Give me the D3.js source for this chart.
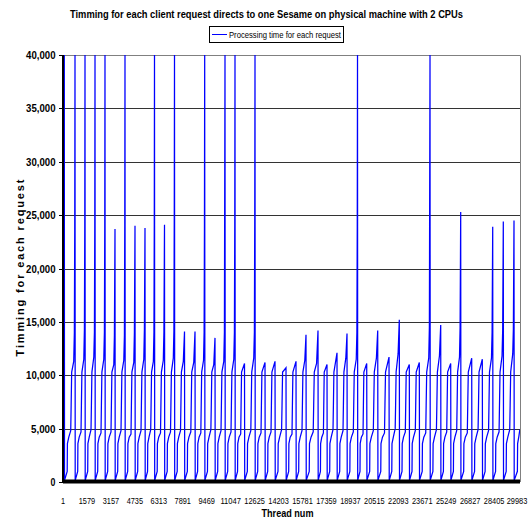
<!DOCTYPE html>
<html>
<head>
<meta charset="utf-8">
<script src="https://cdn.jsdelivr.net/npm/d3@7"></script>
<style>
  body { margin: 0; background: #fff; }
  text { font-family: 'Liberation Sans', Arial, sans-serif; fill: #000; }
</style>
</head>
<body>
<div id="chart"></div>
<script>
// ---- data ----
// thread number where each request cycle ends (the reset back to ~0)
var cycleEnd = [87, 792, 1451, 2110, 2768, 3427, 4086, 4745, 5404, 6030,
                6689, 7348, 8007, 8699, 9337, 10016, 10675, 11334, 11960, 12652,
                13311, 13970, 14694, 15353, 16012, 16803, 17396, 18055, 18714, 19406,
                20012, 20737, 21482, 22160, 22819, 23478, 24183, 24888, 25546, 26205,
                26930, 27629, 28314, 29012, 29717];
// top of the first band (~4-5 s) in each cycle
var band1Top = [4800, 4800, 4700, 4900, 4600, 4700, 4800, 4500, 4800, 4900,
                4600, 4700, 4800, 4700, 4600, 4900, 4800, 4700, 4500, 4800,
                4600, 4700, 4900, 4500, 4800, 4700, 4600, 4900, 4800, 4700,
                4500, 4800, 4600, 5000, 4700, 4800, 4600, 4900, 4700, 4800,
                4600, 4900, 4800, 4700, 4900];
// top of the second band (~11 s)
var band2Top = [11400, 11300, 11500, 11700, 11500, 11000, 11400, 11200, 11500, 11300,
                11400, 11600, 11300, 11200, 11400, 11000, 11300, 11500, 11100, 11600,
                11200, 11300, 10700, 11300, 11400, 11100, 11000, 12100, 11600, 11500,
                11100, 11600, 11700, 12000, 11000, 11200, 11600, 11800, 11100, 11700,
                11600, 11500, 11600, 11800, 12000];
// third level (~14 s), null when the cycle stops at band 2
var highTop = [14200, 14000, 14300, 14000, 14000, 13700, 13700, 14000, 14300, 14000,
               14000, 14200, 14100, 14100, 14000, 13500, 14000, 14000, null, 14000,
               null, null, null, null, 13800, 14200, null, null, 13900, 14000,
               null, 14200, null, 15200, null, null, 14500, 14700, null, 14500,
               null, null, 14000, 14200, 14300];
// ~24 s level
var peak24 = [23700, 23700, 23700, 23700, 23700, 23700, 23800, 24000, 23800, 23800,
              24100, 24700, null, null, 23800, null, null, 23900, null, 24800,
              null, null, null, null, null, null, null, null, null, 23900,
              null, null, null, null, null, null, null, null, null, 25300,
              null, null, 23900, 24400, 24500];
// spikes that run off the top of the axis
var spikeTop = [40000, 40000, 40000, 40000, 40000, null, 40000, null, null, 40000,
                null, 40000, null, null, 40000, null, 40000, 40000, null, 40000,
                null, null, null, null, null, null, null, null, null, 40000,
                null, null, null, null, null, null, 40000, null, null, null,
                null, null, null, null, null];
// levels shared by every cycle and where they sit inside a cycle (fraction of its length)
var sharedLevels = [150, 1000, 3600, 4200, 7200, 10300];
var stepFrac = [0.02, 0.27, 0.29, 0.42, 0.60, 0.64, 0.69, 0.88, 0.94, 0.975, 1.0];
// last unfinished cycle at the right edge
var tailThread = [29730, 29940, 29955, 30040, 30100];
var tailValue = [150, 1000, 3600, 4300, 4900];

var yTicks = [0, 5000, 10000, 15000, 20000, 25000, 30000, 35000, 40000];
var xTickLabels = [1, 1579, 3157, 4735, 6313, 7891, 9469, 11047, 12625, 14203,
                   15781, 17359, 18937, 20515, 22093, 23671, 25249, 26827, 28405, 29983];

// ---- build the polyline ----
var data = [];
cycleEnd.forEach(function(e, i) {
    var s = i == 0 ? 1 : cycleEnd[i - 1];
    var L = e - s;
    var vals = [sharedLevels[0], sharedLevels[1], sharedLevels[2], sharedLevels[3], band1Top[i],
                sharedLevels[4], sharedLevels[5], band2Top[i], highTop[i], peak24[i], spikeTop[i]];
    var pts = [];
    vals.forEach(function(v, k) {
        if (v != null) pts.push({f: stepFrac[k], v: v});
    });
    pts[pts.length - 1].f = 1.0;
    pts.forEach(function(p) { data.push({t: s + p.f * L, v: p.v}); });
});
tailThread.forEach(function(t, i) { data.push({t: t, v: tailValue[i]}); });

// ---- layout ----
var W = 531, H = 529;
var plotL = 63, plotR = 520, plotT = 55, plotB = 482;

var svg = d3.select("#chart").append("svg")
    .attr("width", W)
    .attr("height", H);

var x = d3.scaleLinear().domain([1, 30112]).range([plotL, plotR]);
var y = d3.scaleLinear().domain([0, 40000]).range([plotB, plotT]);

// title
svg.append("text")
    .attr("x", 266.5).attr("y", 18)
    .attr("text-anchor", "middle")
    .style("font-size", "10px").style("font-weight", "bold")
    .attr("textLength", 393).attr("lengthAdjust", "spacingAndGlyphs")
    .text("Timming for each client request directs to one Sesame on physical machine with 2 CPUs");

// gridlines
svg.append("g").selectAll("line")
    .data(yTicks.filter(function(d) { return d > 0 && d < 40000; }))
    .enter().append("line")
    .attr("x1", plotL).attr("x2", plotR)
    .attr("y1", function(d) { return Math.round(y(d)) + 0.5; })
    .attr("y2", function(d) { return Math.round(y(d)) + 0.5; })
    .attr("stroke", "#333")
    .attr("stroke-width", 1);

// top + right border
svg.append("path")
    .attr("d", "M" + plotL + "," + (plotT + 0.5) + "H" + (plotR + 0.5) + "V" + plotB)
    .attr("fill", "none")
    .attr("stroke", "#808080");

// clip for the data line
svg.append("clipPath").attr("id", "plotclip")
    .append("rect")
    .attr("x", plotL).attr("y", plotT)
    .attr("width", plotR - plotL).attr("height", plotB - plotT);

svg.append("path")
    .datum(data)
    .attr("clip-path", "url(#plotclip)")
    .attr("d", d3.line()
        .x(function(d) { return x(d.t); })
        .y(function(d) { return y(d.v); }))
    .attr("fill", "none")
    .attr("stroke", "#0000ff")
    .attr("stroke-width", 1.25);

// y axis
var yAxis = svg.append("g");
yAxis.append("line")
    .attr("x1", plotL).attr("x2", plotL)
    .attr("y1", plotT).attr("y2", plotB + 1)
    .attr("stroke", "#000").attr("stroke-width", 2);
yAxis.selectAll("line.tick")
    .data(yTicks).enter().append("line")
    .attr("class", "tick")
    .attr("x1", plotL - 4).attr("x2", plotL)
    .attr("y1", function(d) { return Math.round(y(d)) + 0.5; })
    .attr("y2", function(d) { return Math.round(y(d)) + 0.5; })
    .attr("stroke", "#000");
var fmt = d3.format(",");
yAxis.selectAll("text")
    .data(yTicks).enter().append("text")
    .attr("x", 55.5)
    .attr("y", function(d) { return y(d) + 4; })
    .attr("text-anchor", "end")
    .style("font-size", "11px").style("font-weight", "bold")
    .attr("textLength", function(d) { return fmt(d).length * 4.9; })
    .attr("lengthAdjust", "spacingAndGlyphs")
    .text(function(d) { return fmt(d); });

// x axis: dense category ticks make a thick black band
svg.append("rect")
    .attr("x", plotL).attr("y", 479.5)
    .attr("width", plotR - plotL).attr("height", 4)
    .attr("fill", "#000");

svg.append("g").selectAll("text")
    .data(xTickLabels).enter().append("text")
    .attr("x", function(d) { return Math.min(x(d), 517); })
    .attr("y", 504)
    .attr("text-anchor", "middle")
    .style("font-size", "9px")
    .attr("textLength", function(d) { return String(d).length * 4.1; })
    .attr("lengthAdjust", "spacingAndGlyphs")
    .text(function(d) { return d; });

// axis titles
svg.append("text")
    .attr("x", 287.5).attr("y", 517)
    .attr("text-anchor", "middle")
    .style("font-size", "11px").style("font-weight", "bold")
    .attr("textLength", 52).attr("lengthAdjust", "spacingAndGlyphs")
    .text("Thread num");

svg.append("text")
    .attr("transform", "translate(24,268) rotate(-90)")
    .attr("text-anchor", "middle")
    .style("font-size", "11px").style("font-weight", "bold")
    .attr("textLength", 177).attr("lengthAdjust", "spacing")
    .text("Timming for each request");

// legend
var legend = svg.append("g");
legend.append("rect")
    .attr("x", 209.5).attr("y", 26.5)
    .attr("width", 134).attr("height", 16)
    .attr("fill", "#fff").attr("stroke", "#000");
legend.append("line")
    .attr("x1", 212).attr("x2", 227)
    .attr("y1", 34.5).attr("y2", 34.5)
    .attr("stroke", "#0000ff");
legend.append("text")
    .attr("x", 229).attr("y", 38)
    .style("font-size", "9px")
    .attr("textLength", 112).attr("lengthAdjust", "spacingAndGlyphs")
    .text("Processing time for each request");
</script>
</body>
</html>
